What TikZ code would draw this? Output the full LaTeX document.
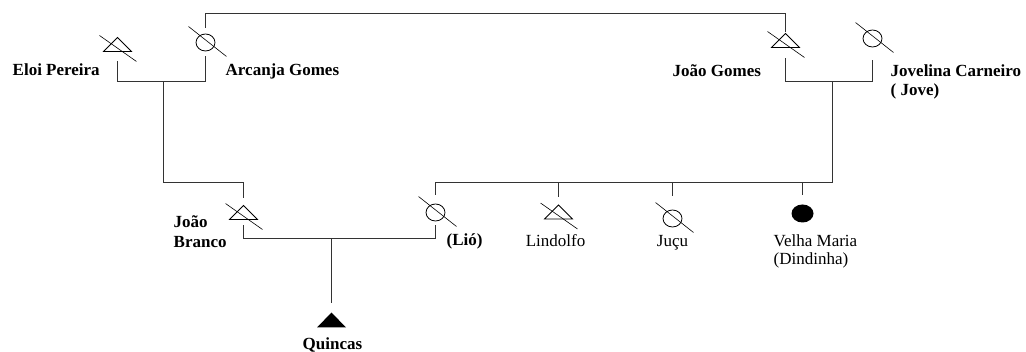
\documentclass[tikz,border=0pt]{standalone}
\usepackage{fontspec}
\setmainfont{Liberation Serif}
\tikzset{
  link/.style={line width=1pt, draw=black!80},
  sym/.style={line width=0.8pt, draw=black},
  slash/.style={line width=0.6pt, draw=black},
  namebold/.style={inner sep=0pt, font=\fontsize{17}{20}\selectfont\bfseries},
  namereg/.style={inner sep=0pt, font=\fontsize{17}{20}\selectfont},
  % deceased male: open triangle struck through
  deadmale/.pic={
    \draw[sym] (-14,7) -- (0,-7) -- (14,7) -- cycle;
    \draw[slash] (-18,-9) -- (19,17);
    \coordinate (-t) at (0,-7);
    \coordinate (-b) at (0,7);
  },
  % deceased female: open circle struck through
  deadfemale/.pic={
    \draw[sym] (0,0) ellipse [x radius=9.5, y radius=8.5];
    \draw[slash] (-17,-16) -- (21,14);
    \coordinate (-t) at (0,-8.5);
    \coordinate (-b) at (0,8.5);
  },
  livemale/.pic={
    \fill (-14.5,7.5) -- (0,-7.5) -- (14.5,7.5) -- cycle;
    \coordinate (-t) at (0,-7.5);
    \coordinate (-b) at (0,7.5);
  },
  livefemale/.pic={
    \fill (0,0) ellipse [x radius=11, y radius=9];
    \coordinate (-t) at (0,-9);
    \coordinate (-b) at (0,9);
  },
}
\begin{document}
\begin{tikzpicture}[x=1pt, y=-1pt]
\useasboundingbox (0,0) rectangle (1026,352);
\begin{scope}[shift={(0.5,0.5)}]

% generation 1
\pic (eloi)     at (117,44)  {deadmale};
\pic (arcanja)  at (205,42)  {deadfemale};
\pic (jgomes)   at (785,40)  {deadmale};
\pic (jovelina) at (872,38)  {deadfemale};

% generation 2
\pic (jbranco)  at (243,212) {deadmale};
\pic (lio)      at (435,212) {deadfemale};
\pic (lindolfo) at (558,211.5) {deadmale};
\pic (jucu)     at (672,218) {deadfemale};
\pic (velha)    at (802,213) {livefemale};

% generation 3
\pic (quincas)  at (331,319.5) {livemale};

% levels of the connecting lines
\coordinate (top)  at (0,13);
\coordinate (gen2) at (0,182);
\coordinate (m1) at (163,81);
\coordinate (m2) at (832,81);
\coordinate (m3) at (331,238);

% sibling link between Arcanja and João Gomes
\draw[link, shorten <=6pt, shorten >=1pt] (arcanja-t) -- (arcanja-t |- top) -| (jgomes-t);

% couples
\draw[link, shorten <=10pt, shorten >=5pt] (eloi-b) |- (m1) -| (arcanja-b);
\draw[link, shorten <=11pt, shorten >=13pt] (jgomes-b) |- (m2) -| (jovelina-b);
\draw[link, shorten <=6pt, shorten >=4pt] (jbranco-b) |- (m3) -| (lio-b);

% descent lines
\draw[link, shorten >=7pt] (m1) -- (m1 |- gen2) -| (jbranco-t);
\draw[link, shorten >=9pt] (m2) -- (m2 |- gen2) -| (lio-t);
\draw[link, shorten >=8pt] (lindolfo-t |- gen2) -- (lindolfo-t);
\draw[link, shorten >=14pt] (jucu-t |- gen2) -- (jucu-t);
\draw[link, shorten >=9pt] (velha-t |- gen2) -- (velha-t);
\draw[link, shorten >=9pt] (m3) -- (quincas-t);

% names
\node[namebold, anchor=base west] (eloiL) at (12,75) {Eloi Pereira};
\node[namebold, anchor=base west] (arcanjaL) at (225,75) {Arcanja Gomes};
\node[namebold, anchor=base west] (jgomesL) at (672,76) {João Gomes};
\node[namebold, anchor=base west] (jovelinaL) at (890,76) {Jovelina Carneiro};
\node[namebold, anchor=base west] (joveL) at (890,95) {( Jove)};
\node[namebold, anchor=base west] (jbrancoL1) at (173,227) {João};
\node[namebold, anchor=base west] (jbrancoL2) at (173,247) {Branco};
\node[namebold, anchor=base west] (lioL) at (446,245) {(Lió)};
\node[namebold, anchor=base] (quincasL) at (332,349) {Quincas};
\node[namereg, anchor=base] (lindolfoL) at (555,246) {Lindolfo};
\node[namereg, anchor=base] (jucuL) at (672,246) {Juçu};
\node[namereg, anchor=base west] (velhaL1) at (773,246) {Velha Maria};
\node[namereg, anchor=base west] (velhaL2) at (773,264) {(Dindinha)};
\end{scope}
\end{tikzpicture}
\end{document}
